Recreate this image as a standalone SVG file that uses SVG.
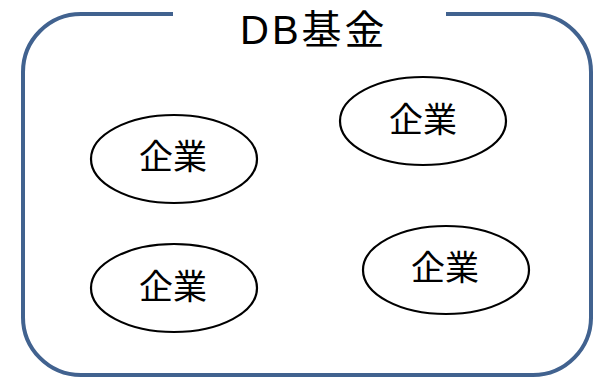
<svg xmlns="http://www.w3.org/2000/svg" width="593" height="377" viewBox="0 0 593 377">
<style>
.frame{fill:none;stroke:#41628F;stroke-width:4}
.ent{fill:#FFFFFF;stroke:#000000;stroke-width:2.2}
.lbl{font-family:"Noto Sans CJK JP","Noto Sans",sans-serif;font-size:34px;fill:#000000;text-anchor:middle}
.title{font-family:"Liberation Sans","Noto Sans CJK JP",sans-serif;font-size:40px;fill:#000000;letter-spacing:3px}
</style>
<rect width="593" height="377" fill="#FFFFFF"/>
<g id="fund">
<path class="frame" d="M173,14 H81 A58,58 0 0 0 23,72 V316 A58,58 0 0 0 81,375 H533 A58,58 0 0 0 591,316 V72 A58,58 0 0 0 533,14 H446"/>
<text class="title" x="240" y="44">DB基金</text>
</g>
<g id="connectors"></g>
<g id="company1">
<ellipse class="ent" cx="174" cy="159" rx="83" ry="44"/>
<text class="lbl" x="173" y="169">企業</text>
</g>
<g id="company2">
<ellipse class="ent" cx="423" cy="121" rx="83" ry="44"/>
<text class="lbl" x="423" y="132">企業</text>
</g>
<g id="company3">
<ellipse class="ent" cx="174" cy="288" rx="83" ry="44"/>
<text class="lbl" x="173" y="299">企業</text>
</g>
<g id="company4">
<ellipse class="ent" cx="446" cy="270" rx="83" ry="44"/>
<text class="lbl" x="445" y="280">企業</text>
</g>
</svg>
